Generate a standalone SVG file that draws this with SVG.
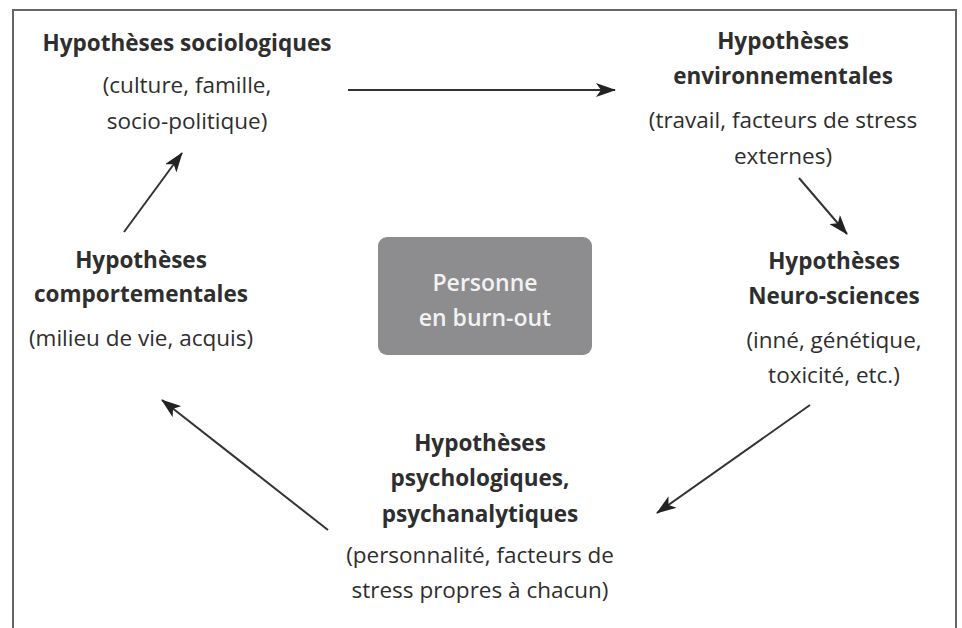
<svg xmlns="http://www.w3.org/2000/svg" width="962" height="628" viewBox="0 0 962 628">
<style>
text{font-family:"Open Sans","Liberation Sans",sans-serif;font-size:22.5px;fill:#2e2e2e;text-anchor:middle}
.t{font-weight:bold}
.c{fill:#f2f2f2;font-size:23px;font-weight:600}
.e{stroke:#333;stroke-width:2;fill:none;marker-end:url(#ah)}
</style>
<defs>
<marker id="ah" viewBox="0 0 20 14" refX="19" refY="7" markerWidth="20" markerHeight="14" markerUnits="userSpaceOnUse" orient="auto">
<path d="M0,0 L20,7 L0,14 L5,7 Z" fill="#222"/>
</marker>
</defs>
<rect width="962" height="628" fill="#fff"/>
<path d="M13,628 V10 H956 V628" fill="none" stroke="#666" stroke-width="2"/>
<g id="center">
<rect x="378" y="237" width="214" height="118" rx="9" fill="#8d8d8f"/>
<text class="c" x="485" y="291">Personne</text>
<text class="c" x="485" y="326">en burn-out</text>
</g>
<g id="socio">
<text class="t" x="187" y="51">Hypothèses sociologiques</text>
<text x="187" y="93">(culture, famille,</text>
<text x="187" y="129">socio-politique)</text>
</g>
<g id="env">
<text class="t" x="783" y="49">Hypothèses</text>
<text class="t" x="783" y="84">environnementales</text>
<text x="783" y="128">(travail, facteurs de stress</text>
<text x="783" y="164">externes)</text>
</g>
<g id="neuro">
<text class="t" x="834" y="269">Hypothèses</text>
<text class="t" x="834" y="304">Neuro-sciences</text>
<text x="834" y="348">(inné, génétique,</text>
<text x="834" y="383">toxicité, etc.)</text>
</g>
<g id="psy">
<text class="t" x="480" y="451">Hypothèses</text>
<text class="t" x="480" y="486">psychologiques,</text>
<text class="t" x="480" y="522">psychanalytiques</text>
<text x="480" y="563">(personnalité, facteurs de</text>
<text x="480" y="598">stress propres à chacun)</text>
</g>
<g id="comport">
<text class="t" x="141" y="268">Hypothèses</text>
<text class="t" x="141" y="302">comportementales</text>
<text x="141" y="346">(milieu de vie, acquis)</text>
</g>
<g id="connectors">
<line class="e" x1="348" y1="90" x2="615" y2="90"/>
<line class="e" x1="799" y1="178" x2="847" y2="234"/>
<line class="e" x1="810" y1="405" x2="657" y2="513"/>
<line class="e" x1="328" y1="530" x2="162" y2="400"/>
<line class="e" x1="124" y1="232" x2="182" y2="153"/>
</g>
</svg>
